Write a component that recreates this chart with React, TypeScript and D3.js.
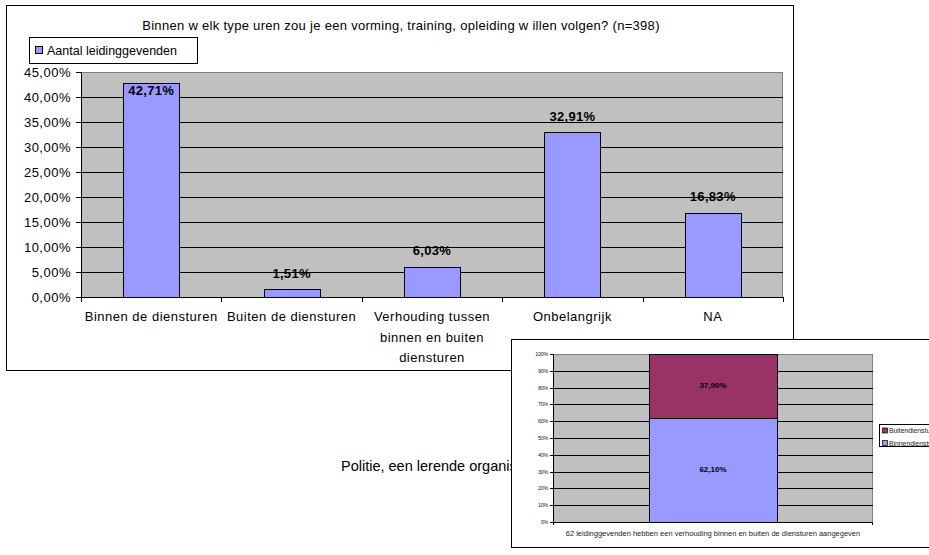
import React from 'react';
import * as d3 from 'd3';

const title =
  'Binnen w elk type uren zou je een vorming, training, opleiding w illen volgen? (n=398)';
const seriesName = 'Aantal leidinggevenden';
const categories = [
  'Binnen de diensturen',
  'Buiten de diensturen',
  'Verhouding tussen binnen en buiten diensturen',
  'Onbelangrijk',
  'NA',
];
const categoryLines = [
  ['Binnen de diensturen'],
  ['Buiten de diensturen'],
  ['Verhouding tussen', 'binnen en buiten', 'diensturen'],
  ['Onbelangrijk'],
  ['NA'],
];
const values = [42.71, 1.51, 6.03, 32.91, 16.83];
const footer = 'Politie, een lerende organisatie';

// inset chart
const insetCategory = ['62 leidinggevenden hebben een verhouding binnen en buiten de diensturen aangegeven'];
const insetSeries = ['Binnendiensturen', 'Buitendiensturen'];
const insetValues = [62.1, 37.9];
const insetColors = ['#9999FF', '#993366'];

const nl = d3.formatLocale({ decimal: ',', thousands: '.', grouping: [3], currency: ['€', ''] });
const fmt2 = nl.format('.2f');
const pct = (v: number) => fmt2(v) + '%';

const FONT = '"Liberation Sans", Arial, sans-serif';

function MainChart() {
  const left = 81;
  const right = 783;
  const top = 72;
  const bottom = 297;

  const x = d3
    .scaleBand<string>()
    .domain(categories)
    .range([left, right])
    .paddingInner(0.6)
    .paddingOuter(0.3);
  const y = d3.scaleLinear().domain([0, 45]).range([bottom, top]);
  const step = x.step();
  const yTicks = y.ticks(9);

  return (
    <g fontFamily={FONT}>
      <rect x={6.5} y={5.5} width={787} height={365} fill="#fff" stroke="#000" />
      <text x={401} y={30} textAnchor="middle" fontSize={13} letterSpacing={0.3}>
        {title}
      </text>
      {/* legend */}
      <rect x={29.5} y={37.5} width={168} height={26} fill="#fff" stroke="#000" />
      <rect x={35.5} y={46.5} width={7} height={7} fill="#9999FF" stroke="#000" />
      <text x={47} y={55} fontSize={12.5}>
        {seriesName}
      </text>

      {/* plot area */}
      <rect x={left} y={top} width={right - left} height={bottom - top} fill="#C0C0C0" />
      <line x1={left} x2={right} y1={top + 0.5} y2={top + 0.5} stroke="#808080" />
      <line x1={right - 0.5} x2={right - 0.5} y1={top} y2={bottom} stroke="#808080" />
      {yTicks
        .filter((t) => t > 0 && t < 45)
        .map((t) => (
          <line
            key={t}
            x1={left}
            x2={right}
            y1={Math.round(y(t)) + 0.5}
            y2={Math.round(y(t)) + 0.5}
            stroke="#000"
          />
        ))}

      {values.map((v, i) => {
        const bx = x(categories[i])!;
        const by = y(v);
        const ly = Math.max(by - 16, top + 18);
        return (
          <g key={i}>
            <rect
              x={Math.round(bx) + 0.5}
              y={Math.round(by) + 0.5}
              width={Math.round(x.bandwidth())}
              height={bottom - Math.round(by)}
              fill="#9999FF"
              stroke="#000"
            />
            <text
              x={bx + x.bandwidth() / 2}
              y={ly}
              textAnchor="middle"
              dominantBaseline="central"
              fontSize={13}
              letterSpacing={0.3}
              fontWeight="bold"
            >
              {pct(v)}
            </text>
          </g>
        );
      })}

      {/* axes */}
      <line x1={left + 0.5} x2={left + 0.5} y1={top} y2={bottom} stroke="#000" />
      <line x1={left} x2={right} y1={bottom + 0.5} y2={bottom + 0.5} stroke="#000" />
      {yTicks.map((t) => (
        <g key={t}>
          <line x1={left - 5} x2={left} y1={Math.round(y(t)) + 0.5} y2={Math.round(y(t)) + 0.5} stroke="#000" />
          <text x={71} y={y(t)} textAnchor="end" dominantBaseline="central" fontSize={13} letterSpacing={0.5}>
            {fmt2(t) + '%'}
          </text>
        </g>
      ))}
      {d3.range(categories.length + 1).map((i) => (
        <line
          key={i}
          x1={Math.round(left + i * step) + 0.5}
          x2={Math.round(left + i * step) + 0.5}
          y1={bottom}
          y2={bottom + 5}
          stroke="#000"
        />
      ))}
      {categoryLines.map((lines, i) => (
        <text
          key={i}
          x={x(categories[i])! + x.bandwidth() / 2}
          y={316}
          textAnchor="middle"
          dominantBaseline="central"
          fontSize={13}
          letterSpacing={0.5}
        >
          {lines.map((l, j) => (
            <tspan key={j} x={x(categories[i])! + x.bandwidth() / 2} dy={j === 0 ? 0 : 20.5}>
              {l}
            </tspan>
          ))}
        </text>
      ))}
    </g>
  );
}

function InsetChart() {
  const left = 553;
  const right = 873;
  const top = 354;
  const bottom = 522;

  const x = d3
    .scaleBand<string>()
    .domain(insetCategory)
    .range([left, right])
    .paddingInner(0.6)
    .paddingOuter(0.3);
  const y = d3.scaleLinear().domain([0, 100]).range([bottom, top]);
  const yTicks = y.ticks(10);
  const stack = d3.cumsum(insetValues);

  return (
    <g fontFamily={FONT}>
      <rect x={511.5} y={339.5} width={440} height={208} fill="#fff" stroke="#000" />
      <rect x={left} y={top} width={right - left} height={bottom - top} fill="#C0C0C0" />
      <line x1={left} x2={right} y1={top + 0.5} y2={top + 0.5} stroke="#808080" />
      <line x1={right - 0.5} x2={right - 0.5} y1={top} y2={bottom} stroke="#808080" />
      {yTicks
        .filter((t) => t > 0 && t < 100)
        .map((t) => (
          <line
            key={t}
            x1={left}
            x2={right}
            y1={Math.round(y(t)) + 0.5}
            y2={Math.round(y(t)) + 0.5}
            stroke="#000"
          />
        ))}
      {insetValues.map((v, i) => {
        const y0 = y(stack[i] - v);
        const y1 = y(stack[i]);
        const bx = x(insetCategory[0])!;
        return (
          <g key={i}>
            <rect
              x={Math.round(bx) + 0.5}
              y={Math.round(y1) + 0.5}
              width={Math.round(x.bandwidth())}
              height={Math.round(y0) - Math.round(y1)}
              fill={insetColors[i]}
              stroke="#000"
            />
            <text
              x={bx + x.bandwidth() / 2}
              y={(y0 + y1) / 2}
              textAnchor="middle"
              dominantBaseline="central"
              fontSize={8}
              fontWeight="bold"
            >
              {pct(v)}
            </text>
          </g>
        );
      })}
      <line x1={left + 0.5} x2={left + 0.5} y1={top} y2={bottom} stroke="#000" />
      <line x1={left} x2={right} y1={bottom + 0.5} y2={bottom + 0.5} stroke="#000" />
      {yTicks.map((t) => (
        <g key={t}>
          <line x1={left - 3} x2={left} y1={Math.round(y(t)) + 0.5} y2={Math.round(y(t)) + 0.5} stroke="#000" />
          <text x={548} y={y(t)} textAnchor="end" dominantBaseline="central" fontSize={5.5} letterSpacing={-0.3} fill="#222">
            {t + '%'}
          </text>
        </g>
      ))}
      <line x1={left + 0.5} x2={left + 0.5} y1={bottom} y2={bottom + 3} stroke="#000" />
      <line x1={right - 0.5} x2={right - 0.5} y1={bottom} y2={bottom + 3} stroke="#000" />
      <text x={713} y={533} textAnchor="middle" dominantBaseline="central" fontSize={7.5} fill="#222">
        {insetCategory[0]}
      </text>
      {/* legend, reversed like the stack */}
      <rect x={879.5} y={424.5} width={80} height={22} fill="#fff" stroke="#000" />
      {insetSeries
        .slice()
        .reverse()
        .map((s, j) => {
          const i = insetSeries.length - 1 - j;
          const ly = 430.5 + j * 12.5;
          return (
            <g key={s}>
              <rect x={882.5} y={ly - 2.5} width={5} height={5} fill={insetColors[i]} stroke="#000" strokeWidth={0.7} />
              <text x={889} y={ly} dominantBaseline="central" fontSize={6.8} fill="#222">
                {s}
              </text>
            </g>
          );
        })}
    </g>
  );
}

export default function App() {
  return (
    <svg
      width={929}
      height={555}
      style={{ position: 'absolute', left: 0, top: 0, background: '#fff' }}
    >
      <rect width={929} height={555} fill="#fff" />
      <MainChart />
      <text x={341} y={471} fontFamily={FONT} fontSize={14.5}>
        {footer}
      </text>
      <InsetChart />
    </svg>
  );
}
